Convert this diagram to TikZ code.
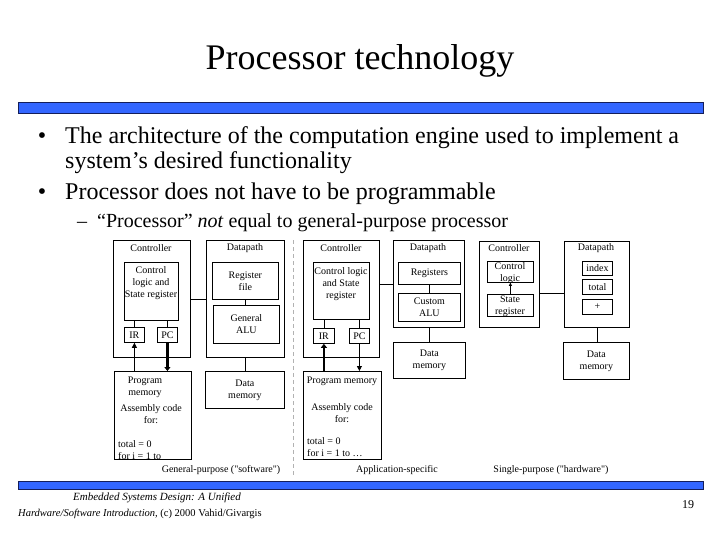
\documentclass[tikz,border=0pt]{standalone}
\usepackage{fontspec}
\setmainfont{Liberation Serif}[Ligatures=TeXOff]
\usetikzlibrary{arrows.meta}
\definecolor{barblue}{RGB}{51,102,255}
\definecolor{barline}{RGB}{20,30,90}
\newcommand\dfont{\fontsize{10}{12}\selectfont}
\begin{document}
\begin{tikzpicture}[x=1pt,y=-1pt,
  box/.style={draw, line width=0.8pt, anchor=north west, inner sep=0pt, align=center, font=\dfont},
  txt/.style={inner sep=0pt, align=center, font=\dfont},
  link/.style={line width=0.8pt},
  thinarrow/.style={line width=0.8pt, -{Triangle[length=5pt,width=5pt]}},
  thickarrow/.style={line width=2.2pt, -{Triangle[length=4pt,width=6pt]}},
  sep/.style={draw=gray!60, line width=0.7pt, dash pattern=on 4pt off 3pt},
  bar/.style={fill=barblue, draw=barline, line width=0.6pt},
  bul/.style={inner sep=0pt, anchor=base west, font=\fontsize{24}{28}\selectfont},
  subbul/.style={inner sep=0pt, anchor=base west, font=\fontsize{20}{24}\selectfont},
]
\useasboundingbox[fill=white] (0,0) rectangle (720,540);

% title and bars
\node[inner sep=0pt, anchor=base, font=\fontsize{36}{40}\selectfont] (title) at (360,70) {Processor technology};
\draw[bar] (18,102) rectangle (703,113);
\draw[bar] (18,481) rectangle (703,489);

% bullets
\node[bul, anchor=base] (d1) at (42,144) {•};
\node[bul] (b1) at (65,144) {The architecture of the computation engine used to implement a};
\node[bul] (b1b) at (65,169) {system’s desired functionality};
\node[bul, anchor=base] (d2) at (42,200) {•};
\node[bul] (b2) at (65,200) {Processor does not have to be programmable};
\node[subbul, anchor=base] (d3) at (82,228) {–};
\node[subbul] (b3) at (97,228) {“Processor” \textit{not} equal to general-purpose processor};

% ---------- General-purpose ----------
\node[box, minimum width=77, minimum height=117] (gc) at (113,240) {};
\node[txt] (gcT) at (151,248) {Controller};
\node[box, minimum width=54, minimum height=58] (gcl) at (124,262) {};
\node[txt] (gclT) at (151,283) {Control\\logic and\\State register};
\node[box, minimum width=20, minimum height=15] (gir) at (124,327) {IR};
\node[box, minimum width=20, minimum height=15] (gpc) at (157,327) {PC};
\node[box, minimum width=78, minimum height=117] (gd) at (206,240) {};
\node[txt] (gdT) at (245,248) {Datapath};
\node[box, minimum width=66, minimum height=37] (grf) at (212,262) {Register\\file};
\node[box, minimum width=66, minimum height=38] (galu) at (213,305) {General\\ALU};
\node[box, minimum width=77, minimum height=88] (gpm) at (114,371) {};
\node[txt] (gpmT1) at (145,387) {Program\\memory};
\node[txt] (gpmT2) at (151,414) {Assembly code\\for:};
\node[txt, anchor=west] (gpmT3) at (118,444) {total = 0};
\begin{scope}
\clip (gpm.north west) rectangle (gpm.south east);
\node[txt, anchor=west] (gpmT4) at (118,456) {for i = 1 to};
\end{scope}
\node[box, minimum width=79, minimum height=37] (gdm) at (205,371) {Data\\memory};
\node[txt] (glab) at (221,470) {General-purpose ("software")};

\draw[link] (gir.north |- gcl.south) -- (gir.north);
\draw[link] (gpc.north |- gcl.south) -- (gpc.north);
\draw[link] (gc.east) -- (gd.west);
\draw[link] (grf.south) -- (grf.south |- galu.north);
\draw[link] (gd.south) -- (gd.south |- gdm.north);
\draw[thinarrow] (gir.south |- gpm.north) -- (gir.south);
\draw[thickarrow] (gpc.south) -- (gpc.south |- gpm.north);

% ---------- Application-specific ----------
\node[box, minimum width=76, minimum height=117] (ac) at (303,240) {};
\node[txt] (acT) at (341,248) {Controller};
\node[box, minimum width=56, minimum height=57] (acl) at (313,262) {};
\node[txt] (aclT) at (341,284) {Control logic\\and State\\register};
\node[box, minimum width=21, minimum height=15] (air) at (313,328) {IR};
\node[box, minimum width=20, minimum height=15] (apc) at (349,328) {PC};
\node[box, minimum width=71, minimum height=87] (ad) at (393,240) {};
\node[txt] (adT) at (428,248) {Datapath};
\node[box, minimum width=62, minimum height=22] (areg) at (398,262) {Registers};
\node[box, minimum width=62, minimum height=28] (aalu) at (398,293) {Custom\\ALU};
\node[box, minimum width=72, minimum height=36] (adm) at (393,342) {Data\\memory};
\node[box, minimum width=78, minimum height=88] (apm) at (303,371) {};
\node[txt] (apmT1) at (342,381) {Program memory};
\node[txt] (apmT2) at (342,413) {Assembly code\\for:};
\node[txt, anchor=west] (apmT3) at (307,441) {total = 0};
\node[txt, anchor=west] (apmT4) at (307,453) {for i = 1 to …};
\node[txt] (alab) at (397,470) {Application-specific};

\draw[link] (air.north |- acl.south) -- (air.north);
\draw[link] (apc.north |- acl.south) -- (apc.north);
\draw[link] (ad.west -| ac.east) -- (ad.west);
\draw[link] (areg.south) -- (areg.south |- aalu.north);
\draw[link] (ad.south) -- (ad.south |- adm.north);
\draw[thickarrow] (air.south |- apm.north) -- (air.south);
\draw[thinarrow] (apc.south) -- (apc.south |- apm.north);

% ---------- Single-purpose ----------
\node[box, minimum width=60, minimum height=86] (sc) at (479,241) {};
\node[txt] (scT) at (509,248) {Controller};
\node[box, minimum width=46, minimum height=21] (scl) at (487,261) {};
\node[txt] (sclT) at (510,273.5) {Control\\logic};
\node[box, minimum width=46, minimum height=22] (ssr) at (487,294) {};
\node[txt] (ssrT) at (510,306.5) {State\\register};
\node[box, minimum width=65, minimum height=86] (sd) at (564,241) {};
\node[txt] (sdT) at (596,248) {Datapath};
\node[box, minimum width=30, minimum height=14] (sidx) at (582,261) {index};
\node[box, minimum width=30, minimum height=15] (stot) at (582,279) {total};
\node[box, minimum width=30, minimum height=15] (splus) at (582,299) {+};
\node[box, minimum width=66, minimum height=37] (sdm) at (563,342) {Data\\memory};
\node[txt] (slab) at (551,470) {Single-purpose ("hardware")};

\draw[link, -{Triangle[length=3pt,width=3pt]}] (ssr.north) -- (scl.south);
\draw[link] ([yshift=-9pt]sc.east) -- ([yshift=-9pt]sd.west);
\draw[link] (sd.south) -- (sd.south |- sdm.north);

% separators
\coordinate (s1t) at (293,240);
\coordinate (s1b) at (293,476);
\draw[sep] (s1t) -- (s1b);

% footer
\node[txt, font=\fontsize{11}{13}\selectfont\itshape] (f1) at (157,498) {Embedded Systems Design: A Unified};
\node[txt, anchor=west, font=\fontsize{10.5}{12}\selectfont] (f2) at (18,514) {\textit{Hardware/Software Introduction,} (c) 2000 Vahid/Givargis};
\node[inner sep=0pt, font=\fontsize{12}{14}\selectfont] (pg) at (688,505) {19};
\end{tikzpicture}
\end{document}
